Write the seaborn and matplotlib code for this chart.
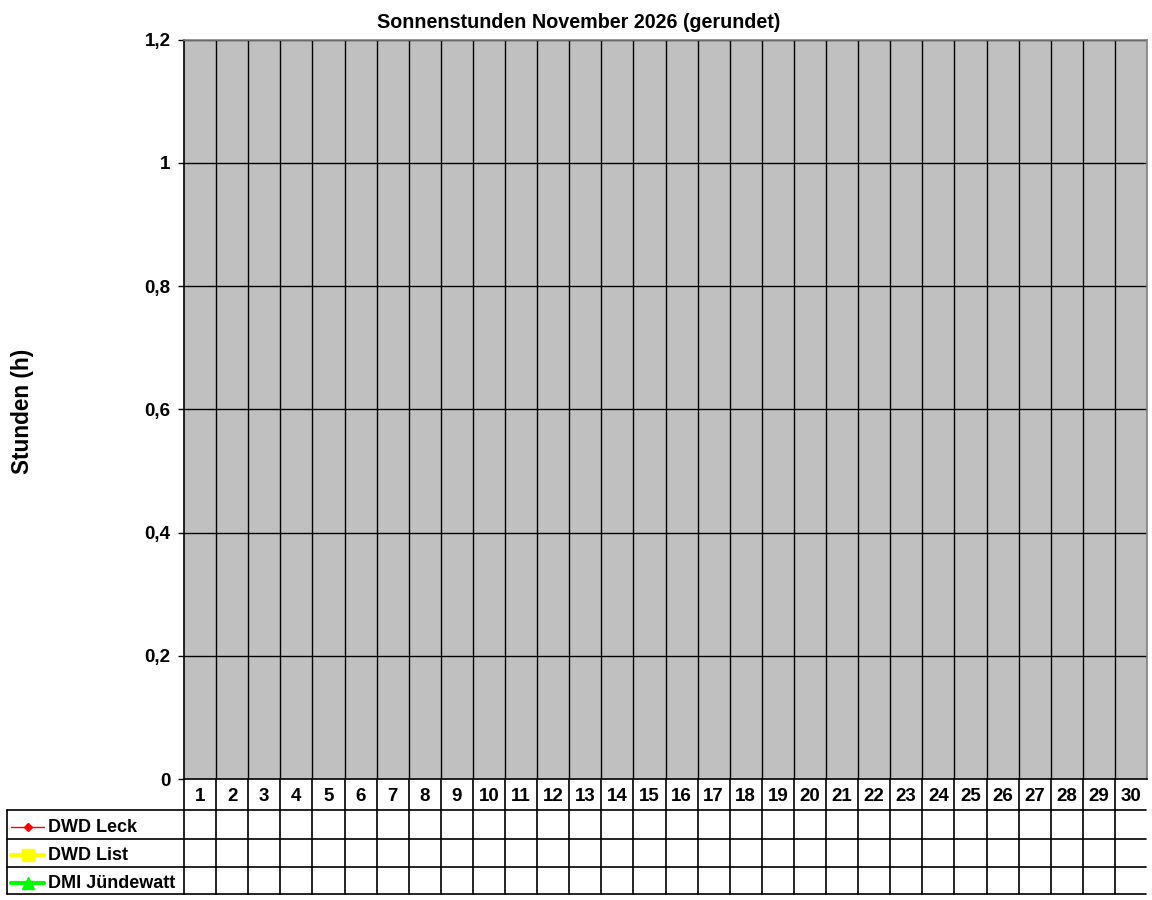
import numpy as np
import pandas as pd
import matplotlib

matplotlib.use("Agg")
import matplotlib.pyplot as plt
import matplotlib.transforms as mtransforms
from matplotlib.lines import Line2D
import seaborn as sns

sns.set_style("white")
plt.rcParams["font.family"] = ["Liberation Sans", "DejaVu Sans"]
plt.rcParams["font.weight"] = "bold"
plt.rcParams["text.color"] = "black"
plt.rcParams["ytick.color"] = "black"

# chart data (no values reported for this month yet)
days = list(range(1, 31))
stations = ["DWD Leck", "DWD List", "DMI Jündewatt"]
leck = [np.nan] * 30
list_sylt = [np.nan] * 30
juendewatt = [np.nan] * 30
y_ticks = [0, 0.2, 0.4, 0.6, 0.8, 1.0, 1.2]
y_tick_labels = ["0", "0,2", "0,4", "0,6", "0,8", "1", "1,2"]

colors = {"DWD Leck": "#ff0000", "DWD List": "#ffff00", "DMI Jündewatt": "#00ff00"}
markers = {"DWD Leck": "D", "DWD List": "s", "DMI Jündewatt": "^"}
line_w = {"DWD Leck": 1.0, "DWD List": 3.0, "DMI Jündewatt": 3.0}
marker_s = {"DWD Leck": 4, "DWD List": 9, "DMI Jündewatt": 9}

df = pd.DataFrame(
    {
        "day": days * 3,
        "station": [s for s in stations for _ in days],
        "hours": leck + list_sylt + juendewatt,
    }
)

W, H = 1152, 900
fig = plt.figure(figsize=(W / 100, H / 100), dpi=100)
# plot area in pixels
px_l, px_r, px_t, px_b = 184, 1147, 39.5, 779
ax = fig.add_axes([px_l / W, 1 - px_b / H, (px_r - px_l) / W, (px_b - px_t) / H])
ax.set_facecolor("#c0c0c0")

for s in stations:
    sub = df[df["station"] == s].dropna()
    if len(sub):
        sns.lineplot(
            data=sub, x="day", y="hours", ax=ax, color=colors[s],
            marker=markers[s], linewidth=line_w[s], markersize=marker_s[s],
        )

ax.set_xlim(0.5, 30.5)
ax.set_ylim(0, 1.2)
ax.set_yticks(y_ticks)
ax.set_yticklabels(y_tick_labels, fontsize=13.5, fontweight="bold", color="black")
ax.set_xticks([])
ax.tick_params(axis="y", direction="out", length=4.3, width=1, color="black", pad=5.5, left=True)
ax.set_xlabel("")
ax.set_ylabel("")

# grid: horizontal lines at ticks, vertical lines between days
for yv in y_ticks[1:]:
    ax.axhline(yv, color="black", linewidth=1, zorder=1)
for d in days[:-1]:
    ax.axvline(d + 0.5, color="black", linewidth=1, zorder=1)

for side in ["top", "right"]:
    ax.spines[side].set_color("#808080")
    ax.spines[side].set_linewidth(1.2)
for side in ["left", "bottom"]:
    ax.spines[side].set_color("black")
    ax.spines[side].set_linewidth(1.2)

fig.text(579 / W, 1 - 22 / H, "Sonnenstunden November 2026 (gerundet)",
         ha="center", va="center", fontsize=14.2, fontweight="bold", color="black")
fig.text(23 / W, 1 - 411 / H, "Stunden (h)", rotation=90,
         ha="center", va="center", fontsize=16.3, fontweight="bold", color="black")

# data table below the chart
tab = fig.add_axes([px_l / W, 1 - 894 / H, (px_r - px_l) / W, (894 - px_b) / H])
tab.set_xlim(0.5, 30.5)
tab.set_ylim(115, 0)
tab.axis("off")
blend = mtransforms.blended_transform_factory(tab.transAxes, tab.transData)
px_w = px_r - px_l
left_frac = (7 - px_l) / px_w
right_frac = (1146 - px_l) / px_w
row_edges = [31, 60, 88, 115]

for d in days:
    tab.text(d, 17.5, str(d), ha="center", va="center", fontsize=13.5,
             fontweight="bold", color="black")
for d in [0] + days[:-1]:
    tab.plot([d + 0.5, d + 0.5], [0, 115], color="black", linewidth=1.2, clip_on=False)
for ry in row_edges:
    tab.plot([left_frac, right_frac], [ry, ry], color="black", linewidth=1.2,
             transform=blend, clip_on=False)
tab.plot([left_frac, left_frac], [31, 115], color="black", linewidth=1.2,
         transform=blend, clip_on=False)

for i, s in enumerate(stations):
    yc = (row_edges[i] + row_edges[i + 1]) / 2
    x0, x1 = (11 - px_l) / px_w, (44 - px_l) / px_w
    tab.add_line(Line2D([x0, x1], [yc + 2, yc + 2], color=colors[s], linewidth=line_w[s],
                        transform=blend, clip_on=False))
    tab.add_line(Line2D([(x0 + x1) / 2], [yc + 2], color=colors[s], marker=markers[s],
                        markersize=marker_s[s], transform=blend, clip_on=False))
    tab.text((48 - px_l) / px_w, yc + 2.5, s, transform=blend, ha="left", va="center",
             fontsize=13, fontweight="bold", color="black")

fig.savefig("out.png", dpi=100)
